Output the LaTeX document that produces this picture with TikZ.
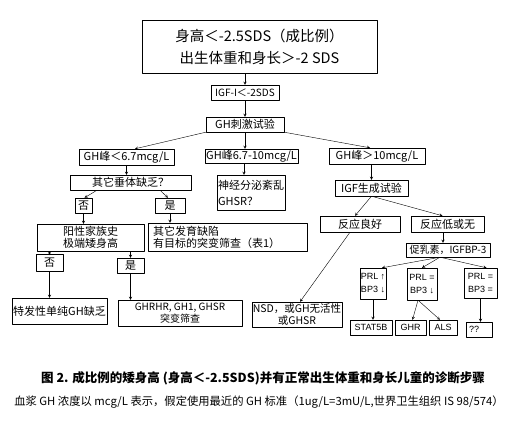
\documentclass[tikz,border=0pt]{standalone}
\usepackage{fontspec}
\setmainfont{Noto Sans CJK SC}
\newfontfamily\latinsans{Liberation Sans}
\begin{document}
\begin{tikzpicture}[x=1pt, y=-1pt, line join=round, >=stealth,
	font=\fontsize{11}{13}\selectfont,
	box/.style={draw, thin, inner sep=0pt, align=center},
	smallbox/.style={box, font=\latinsans\fontsize{9}{13}\selectfont},
	conn/.style={thin, ->}]
	\useasboundingbox (0,0) rectangle (527,425);
	% main column
	\node[box, minimum width=235, minimum height=53, font=\fontsize{14.5}{22}\selectfont] (top) at (259.5,46.5) {身高＜-2.5SDS（成比例）\\出生体重和身长＞-2 SDS};
	\node[box, minimum width=68, minimum height=15, font=\fontsize{10}{12}\selectfont] (igf) at (245,92.5) {IGF-I＜-2SDS};
	\node[box, minimum width=78, minimum height=15] (ghst) at (245,124.5) {GH刺激试验};
	% three GH branches
	\node[box, minimum width=95, minimum height=16] (gha) at (126.5,157) {GH峰＜6.7mcg/L};
	\node[box, minimum width=93, minimum height=14] (ghb) at (251.5,156) {GH峰6.7-10mcg/L};
	\node[box, minimum width=96, minimum height=16] (ghc) at (377,156) {GH峰＞10mcg/L};
	% left branch
	\node[box, minimum width=121, minimum height=15] (pit) at (130.5,182.5) {其它垂体缺乏？};
	\node[box, minimum width=17, minimum height=15] (no1) at (83.5,205.5) {否};
	\node[box, minimum width=30, minimum height=15] (yes1) at (170,205.5) {是};
	\node[box, minimum width=107, minimum height=27, font=\fontsize{11}{12}\selectfont] (fam) at (90.5,237.5) {阳性家族史\\极端矮身高};
	\node[box, text width=149, inner xsep=5pt, minimum height=28, align=left, font=\fontsize{11}{12}\selectfont] (dev) at (227.5,237) {其它发育缺陷\\有目标的突变筛查（表1）};
	\node[box, minimum width=27, minimum height=17] (no2) at (49.5,262.5) {否};
	\node[box, minimum width=27, minimum height=15] (yes2) at (130.5,265.5) {是};
	\node[box, minimum width=95, minimum height=26] (idio) at (59.5,311) {特发性单纯GH缺乏};
	\node[box, minimum width=124, minimum height=26, font=\fontsize{10}{12}\selectfont] (ghrhr) at (180,313) {GHRHR, GH1, GHSR\\突变筛查};
	% middle branch
	\node[box, text width=66, inner xsep=1pt, minimum height=35, align=left, font=\fontsize{11}{16}\selectfont] (neuro) at (251,192.5) {神经分泌紊乱\\GHSR？};
	% right branch
	\node[box, minimum width=73, minimum height=16] (igfgen) at (371.5,188) {IGF生成试验};
	\node[box, minimum width=80, minimum height=16] (good) at (360,224) {反应良好};
	\node[box, minimum width=73, minimum height=16] (poor) at (447.5,224) {反应低或无};
	\node[box, minimum width=84, minimum height=14, font=\fontsize{10}{12}\selectfont] (prl) at (448,250) {促乳素，IGFBP-3};
	\node[box, minimum width=90, minimum height=25, font=\fontsize{10.5}{12}\selectfont] (nsd) at (297,314.5) {NSD，或GH无活性\\或GHSR};
	\node[smallbox, minimum width=26, minimum height=31] (p1) at (373,283.5) {PRL ↑\\BP3 ↓};
	\node[smallbox, minimum width=30, minimum height=32] (p2) at (422,284) {PRL =\\BP3 ↓};
	\node[smallbox, minimum width=33, minimum height=30] (p3) at (480.5,283) {PRL =\\BP3 =};
	\node[smallbox, minimum width=42, minimum height=15] (stat) at (371,327.5) {STAT5B};
	\node[smallbox, minimum width=31, minimum height=15] (ghr) at (410.5,327.5) {GHR};
	\node[smallbox, minimum width=28, minimum height=15] (als) at (443,327.5) {ALS};
	\node[smallbox, minimum width=26, minimum height=15, align=left, text width=20, inner xsep=3pt] (qq) at (479,329.5) {??};
	% connectors
	\draw[conn] (igf.north |- top.south) -- (igf.north);
	\draw[conn] (igf.south) -- (ghst.north);
	\draw[conn] (ghst.south west) -- ([xshift=8.5pt]gha.north);
	\draw[conn] (ghst.south) -- (ghst.south |- ghb.north);
	\draw[conn] (ghst.south east) -- ([xshift=-7pt]ghc.north);
	\draw[conn] (gha.south) -- (gha.south |- pit.north);
	\draw[conn] ([xshift=-33.5pt]pit.south) -- ([xshift=1pt]no1.north);
	\draw[conn] ([xshift=29.5pt]pit.south) -- ([xshift=-2pt]yes1.north);
	\foreach \a/\b in {no1/fam, yes1/dev, no2/idio, yes2/ghrhr, p1/stat, p3/qq}
		\draw[conn] (\a.south) -- (\a.south |- \b.north);
	\draw[conn] (no2.north |- fam.south) -- ++(0,4);
	\draw[conn] (yes2.north |- fam.south) -- (yes2.north);
	\draw[conn] ([xshift=-7pt]neuro.north |- ghb.south) -- ([xshift=-7pt]neuro.north);
	\draw[conn] (igfgen.north |- ghc.south) -- (igfgen.north);
	\draw[conn] (igfgen.south) -- ([xshift=-5pt]good.north);
	\draw[conn] (igfgen.south) -- ([xshift=-5pt]poor.north);
	\draw[conn] ([xshift=-4.5pt]poor.south) -- ([xshift=-4.5pt]poor.south |- prl.north);
	\draw[conn] ([xshift=-10pt]good.south) -- ([xshift=3pt]nsd.north);
	\foreach \b/\s in {p1/9, p2/0, p3/6}
		\draw[conn] ([xshift=-8pt]prl.south) -- ([xshift=\s pt]\b.north);
	\draw[conn] ([xshift=-4pt]p2.south) -- ([xshift=2pt]ghr.north);
	\draw[conn] ([xshift=-4pt]p2.south) -- ([xshift=-3pt]als.north);
	% caption
	\node[font=\bfseries\fontsize{12.5}{14}\selectfont] (cap1) at (263,378) {图 2. 成比例的矮身高 (身高＜-2.5SDS)并有正常出生体重和身长儿童的诊断步骤};
	\node[font=\fontsize{11.3}{14}\selectfont] (cap2) at (259,402) {血浆 GH 浓度以 mcg/L 表示，假定使用最近的 GH 标准（1ug/L=3mU/L,世界卫生组织 IS 98/574）};
\end{tikzpicture}
\end{document}
